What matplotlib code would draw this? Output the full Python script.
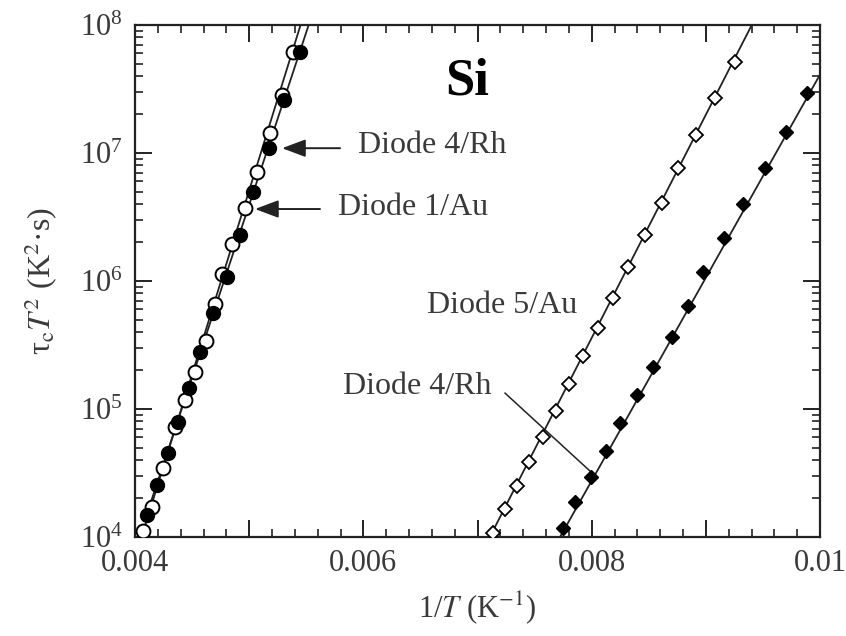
import matplotlib
matplotlib.use("Agg")
import matplotlib.pyplot as plt
import numpy as np
from matplotlib.ticker import MultipleLocator, LogLocator, NullFormatter, FuncFormatter

plt.rcParams['font.family'] = ['Liberation Serif', 'DejaVu Serif']
plt.rcParams['mathtext.fontset'] = 'stix'

# Diode 4/Rh (filled circles)
rh4c_x = [0.004102, 0.004190, 0.004292, 0.004379, 0.004473, 0.004569, 0.004686,
          0.004803, 0.004920, 0.005036, 0.005174, 0.005308, 0.005445]
rh4c_y = [1.49e4, 2.55e4, 4.51e4, 7.96e4, 1.46e5, 2.81e5, 5.60e5,
          1.08e6, 2.28e6, 4.99e6, 1.10e7, 2.59e7, 6.18e7]
rh4c_fit_x = [0.004102, 0.005521]
rh4c_fit_y = [1.49e4, 1.0e8]

# Diode 1/Au (open circles)
au1_x = [0.004073, 0.004149, 0.004245, 0.004350, 0.004438, 0.004526, 0.004622, 0.004701,
         0.004762, 0.004850, 0.004964, 0.005066, 0.005183, 0.005288, 0.005387]
au1_y = [1.11e4, 1.71e4, 3.46e4, 7.22e4, 1.17e5, 1.95e5, 3.40e5, 6.61e5,
         1.13e6, 1.95e6, 3.72e6, 7.11e6, 1.43e7, 2.84e7, 6.15e7]
au1_fit_x = [0.004073, 0.005450]
au1_fit_y = [1.11e4, 1.0e8]

# Diode 5/Au (open diamonds)
au5_x = [0.007133, 0.007241, 0.007343, 0.007454, 0.007571, 0.007685, 0.007801, 0.007927,
         0.008058, 0.008190, 0.008321, 0.008467, 0.008613, 0.008759, 0.008914, 0.009080, 0.009256]
au5_y = [1.07e4, 1.64e4, 2.50e4, 3.87e4, 6.08e4, 9.64e4, 1.57e5, 2.59e5,
         4.32e5, 7.33e5, 1.29e6, 2.28e6, 4.05e6, 7.59e6, 1.38e7, 2.67e7, 5.16e7]
au5_fit_x = [0.007108, 0.009402]
au5_fit_y = [1.0e4, 1.0e8]

# Diode 4/Rh (filled diamonds)
rh4d_x = [0.007746, 0.007854, 0.007991, 0.008125, 0.008248, 0.008394, 0.008540, 0.008701,
          0.008846, 0.008978, 0.009159, 0.009323, 0.009518, 0.009702, 0.009889]
rh4d_y = [1.17e4, 1.89e4, 2.96e4, 4.72e4, 7.73e4, 1.28e5, 2.14e5, 3.67e5,
          6.38e5, 1.18e6, 2.16e6, 4.00e6, 7.59e6, 1.47e7, 2.96e7]
rh4d_fit_x = [0.007723, 0.0100]
rh4d_fit_y = [1.0e4, 4.1e7]

xticks_labeled = [0.004, 0.006, 0.008, 0.01]

ink = '#222222'
txt = '#3a3a3a'

fig = plt.figure(figsize=(8.46, 6.36), dpi=100)
ax = fig.add_axes([0.1596, 0.1557, 0.8097, 0.8050])

# fitted lines
ax.plot(au1_fit_x, au1_fit_y, color=ink, lw=1.3, zorder=2)
ax.plot(rh4c_fit_x, rh4c_fit_y, color=ink, lw=1.3, zorder=2)
ax.plot(au5_fit_x, au5_fit_y, color=ink, lw=1.3, zorder=2)
ax.plot(rh4d_fit_x, rh4d_fit_y, color=ink, lw=1.3, zorder=2)

# markers
ax.plot(au1_x, au1_y, 'o', ms=10, mfc='white', mec='black', mew=1.4, ls='none', zorder=3)
ax.plot(rh4c_x, rh4c_y, 'o', ms=10, mfc='black', mec='black', mew=1.0, ls='none', zorder=4)
ax.plot(au5_x, au5_y, 'D', ms=7.5, mfc='white', mec='black', mew=1.3, ls='none', zorder=3)
ax.plot(rh4d_x, rh4d_y, 'D', ms=7.5, mfc='black', mec='black', mew=1.0, ls='none', zorder=3)

ax.set_yscale('log')
ax.set_xlim(0.004, 0.01)
ax.set_ylim(1e4, 1e8)

ax.xaxis.set_major_locator(MultipleLocator(0.001))
ax.xaxis.set_minor_locator(MultipleLocator(0.0002))
ax.xaxis.set_major_formatter(FuncFormatter(
    lambda v, p: ('%g' % round(v, 4)) if any(abs(v - t) < 1e-9 for t in xticks_labeled) else ''))
ax.yaxis.set_major_locator(LogLocator(base=10, numticks=10))
ax.yaxis.set_minor_locator(LogLocator(base=10, subs=np.arange(2, 10), numticks=20))
ax.yaxis.set_minor_formatter(NullFormatter())

ax.tick_params(which='both', direction='in', top=True, right=True, colors=ink,
               labelcolor=txt, labelsize=22)
ax.tick_params(which='major', length=12, width=1.4)
ax.tick_params(which='minor', length=6, width=1.2)
ax.tick_params(axis='x', pad=9)
ax.tick_params(axis='y', pad=9)
for s in ax.spines.values():
    s.set_linewidth(1.6)
    s.set_color(ink)

ax.set_xlabel(r'1/$T$ (K$^{-1}$)', fontsize=22, color=txt, labelpad=8)
ax.set_ylabel(r'τ$_{\rm c}$$T^{2}$ (K$^{2}$·s)', fontsize=23, color=txt, labelpad=14)

# annotations
ax.text(0.4847, 0.8887, 'Si', transform=ax.transAxes, fontsize=38, fontweight='bold',
        ha='center', va='center', color='black')
ax.text(0.3255, 0.7637, 'Diode 4/Rh', transform=ax.transAxes, fontsize=23,
        ha='left', va='center', color=txt)
ax.annotate('', xy=(0.005288, 1.09e7), xytext=(0.005796, 1.09e7),
            arrowprops=dict(arrowstyle='-|>,head_length=0.8,head_width=0.3',
                            color=ink, lw=1.4, shrinkA=0, shrinkB=0, mutation_scale=18))
ax.text(0.2964, 0.6445, 'Diode 1/Au', transform=ax.transAxes, fontsize=23,
        ha='left', va='center', color=txt)
ax.annotate('', xy=(0.005051, 3.65e6), xytext=(0.005620, 3.65e6),
            arrowprops=dict(arrowstyle='-|>,head_length=0.8,head_width=0.3',
                            color=ink, lw=1.4, shrinkA=0, shrinkB=0, mutation_scale=18))
ax.text(0.4263, 0.4512, 'Diode 5/Au', transform=ax.transAxes, fontsize=23,
        ha='left', va='center', color=txt)
ax.text(0.3036, 0.2930, 'Diode 4/Rh', transform=ax.transAxes, fontsize=23,
        ha='left', va='center', color=txt)
ax.plot([0.007241, 0.007994], [1.33e5, 3.22e4], color=ink, lw=1.1, zorder=2)

fig.savefig('out.png', dpi=100)
